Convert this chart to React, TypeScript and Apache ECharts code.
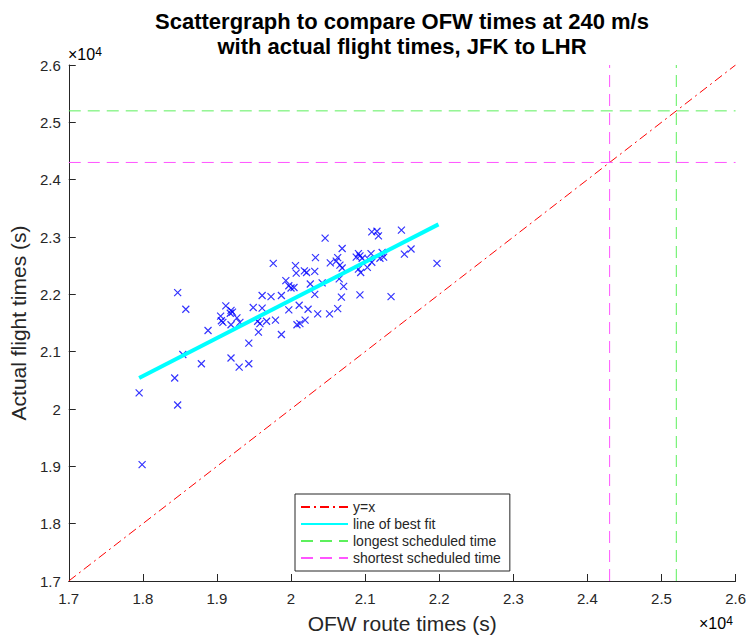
import React, { useEffect, useRef } from "react";
import * as echarts from "echarts";

// OFW route times (s) vs actual flight times (s)
const ofwTimes: number[] = [
  18470, 18580, 19760, 19120, 19190, 19180, 19210, 19050, 19060, 19080,
  19190, 19270, 19310, 18880, 19490, 19610, 19730, 19610, 19870, 19930,
  19970, 19970, 19550, 19580, 19670, 19790, 19560, 19870, 19430, 18540,
  18790, 19190, 19300, 19430, 18430, 17950, 18470, 17990, 20460, 21090,
  21160, 21180, 21490, 20690, 20330, 20910, 20930, 20880, 21080, 21050,
  20960, 21230, 21250, 21200, 21530, 21620, 21970, 20530, 20630, 20610,
  20660, 20690, 20060, 20070, 20180, 20210, 20320, 20910, 20940, 21030,
  21090, 20000, 20040, 20260, 20420, 20650, 20710, 20680, 20930, 21350,
  20320, 20110, 20230, 20360, 20520, 20630, 20080, 20120, 20190,
];
const actualTimes: number[] = [
  22030, 21740, 22540, 21800, 21720, 21670, 21690, 21620, 21540, 21510,
  21470, 21590, 21510, 21370, 21770, 21980, 21960, 21760, 21980, 22240,
  22150, 21730, 21530, 21490, 21530, 21550, 21340, 21300, 21150, 20950,
  20790, 20890, 20730, 20790, 20540, 20280, 20070, 19030, 22980, 23090,
  23100, 23020, 23120, 22800, 22640, 22710, 22670, 22650, 22710, 22610,
  22630, 22730, 22650, 22630, 22700, 22790, 22540, 22550, 22640, 22580,
  22510, 22460, 22500, 22370, 22410, 22380, 22400, 22440, 22380, 22470,
  22560, 22110, 22120, 22180, 22200, 22270, 22140, 21950, 21990, 21960,
  22000, 21810, 21740, 21660, 21660, 21750, 21470, 21490, 21550,
];

// line of best fit end points
const fitX: number[] = [17950, 21990];
const fitY: number[] = [20540, 23220];

// y = x reference
const identityEnds: number[] = [17000, 26000];

// scheduled times (s)
const longestScheduled = 25200;
const shortestScheduled = 24300;

// axis
const axisMin = 17000;
const axisMax = 26000;
const axisStep = 1000;
const tickLabels: string[] = ["1.7", "1.8", "1.9", "2", "2.1", "2.2", "2.3", "2.4", "2.5", "2.6"];

const titleLines: string[] = [
  "Scattergraph to compare OFW times at 240 m/s",
  "with actual flight times, JFK to LHR",
];
const xName = "OFW route times (s)";
const yName = "Actual flight times (s)";
const legendNames: string[] = [
  "y=x",
  "line of best fit",
  "longest scheduled time",
  "shortest scheduled time",
];

const FONT = "'Liberation Sans', Arial, Helvetica, sans-serif";
const AXIS_COLOR = "#262626";
const GREEN = "#5cf05c";
const MAGENTA = "#ff55ff";

function tickFormatter(v: number): string {
  const idx = Math.round((v - axisMin) / axisStep);
  return tickLabels[idx] ?? "";
}

const exponentRich = {
  n: { fontSize: 16, fontFamily: FONT, color: AXIS_COLOR, verticalAlign: "bottom" },
  s: { fontSize: 12, fontFamily: FONT, color: AXIS_COLOR, verticalAlign: "top" },
};

export default function App() {
  const ref = useRef<HTMLDivElement>(null);

  useEffect(() => {
    if (!ref.current) return;
    const chart = echarts.init(ref.current, null, { renderer: "svg" });

    const scatterData = ofwTimes.map((x, i) => [x, actualTimes[i]]);
    const fitData = fitX.map((x, i) => [x, fitY[i]]);
    const identityData = identityEnds.map((v) => [v, v]);

    const axisCommon = {
      type: "value" as const,
      min: axisMin,
      max: axisMax,
      interval: axisStep,
      axisLine: { show: true, onZero: false, lineStyle: { color: AXIS_COLOR, width: 1 } },
      axisTick: { show: true, inside: true, length: 7, lineStyle: { color: AXIS_COLOR } },
      splitLine: { show: false },
      axisLabel: {
        formatter: tickFormatter,
        color: AXIS_COLOR,
        fontSize: 15,
        fontFamily: FONT,
      },
      nameLocation: "middle" as const,
      nameTextStyle: { color: AXIS_COLOR, fontSize: 21, fontFamily: FONT },
    };

    const option: any = {
      animation: false,
      backgroundColor: "#ffffff",
      grid: { left: 67, top: 65, right: 12, bottom: 56, containLabel: false },
      xAxis: {
        ...axisCommon,
        name: xName,
        nameGap: 32,
        axisLabel: { ...axisCommon.axisLabel, margin: 10 },
      },
      yAxis: {
        ...axisCommon,
        name: yName,
        nameGap: 28,
        axisLabel: { ...axisCommon.axisLabel, margin: 8 },
      },
      legend: {
        show: true,
        orient: "vertical",
        left: 295,
        top: 494,
        data: legendNames,
        itemWidth: 47,
        itemHeight: 14,
        itemGap: 3,
        padding: [6, 9, 6, 5],
        backgroundColor: "#ffffff",
        borderColor: AXIS_COLOR,
        borderWidth: 1,
        borderRadius: 0,
        textStyle: { color: AXIS_COLOR, fontSize: 14, fontFamily: FONT },
        itemStyle: { color: "rgba(0,0,0,0)", borderWidth: 0, opacity: 0 },
        selectedMode: false,
      },
      graphic: [
        {
          type: "text",
          x: 402,
          y: 9,
          style: {
            text: titleLines.join("\n"),
            x: 0,
            y: 0,
            align: "center",
            verticalAlign: "top",
            fill: "#000000",
            font: `bold 22px ${FONT}`,
            lineHeight: 25,
          },
        },
        {
          type: "text",
          x: 68,
          y: 46,
          style: {
            text: "{n|×10}{s|4}",
            rich: exponentRich,
          },
        },
        {
          type: "text",
          x: 699,
          y: 615,
          style: {
            text: "{n|×10}{s|4}",
            rich: exponentRich,
          },
        },
      ],
      series: [
        {
          type: "scatter",
          name: "data",
          data: scatterData,
          symbol: "path://M0,0L10,10M10,0L0,10",
          symbolSize: 7,
          itemStyle: { color: "rgba(0,0,0,0)", borderColor: "#0000ff", borderWidth: 1.2 },
          z: 2,
        },
        {
          type: "line",
          name: legendNames[0],
          data: identityData,
          symbol: "none",
          lineStyle: { color: "#ff0000", width: 1, type: [9, 4, 2, 4] },
          itemStyle: { color: "#ff0000" },
          z: 3,
        },
        {
          type: "line",
          name: legendNames[1],
          data: fitData,
          symbol: "none",
          lineStyle: { color: "#00ffff", width: 4 },
          itemStyle: { color: "#00ffff" },
          z: 4,
        },
        {
          type: "line",
          name: legendNames[2],
          data: [[longestScheduled, axisMin], [longestScheduled, axisMax]],
          symbol: "none",
          lineStyle: { color: GREEN, width: 1, type: [12, 7] },
          itemStyle: { color: GREEN },
          z: 3,
        },
        {
          type: "line",
          name: legendNames[2],
          data: [[axisMin, longestScheduled], [axisMax, longestScheduled]],
          symbol: "none",
          lineStyle: { color: GREEN, width: 1, type: [12, 7] },
          itemStyle: { color: GREEN },
          z: 3,
        },
        {
          type: "line",
          name: legendNames[3],
          data: [[shortestScheduled, axisMin], [shortestScheduled, axisMax]],
          symbol: "none",
          lineStyle: { color: MAGENTA, width: 1, type: [12, 7] },
          itemStyle: { color: MAGENTA },
          z: 3,
        },
        {
          type: "line",
          name: legendNames[3],
          data: [[axisMin, shortestScheduled], [axisMax, shortestScheduled]],
          symbol: "none",
          lineStyle: { color: MAGENTA, width: 1, type: [12, 7] },
          itemStyle: { color: MAGENTA },
          z: 3,
        },
      ],
    };

    chart.setOption(option);
    return () => {
      chart.dispose();
    };
  }, []);

  return (
    <div
      ref={ref}
      style={{ position: "absolute", left: 0, top: 0, width: 749, height: 639, background: "#fff" }}
    />
  );
}
